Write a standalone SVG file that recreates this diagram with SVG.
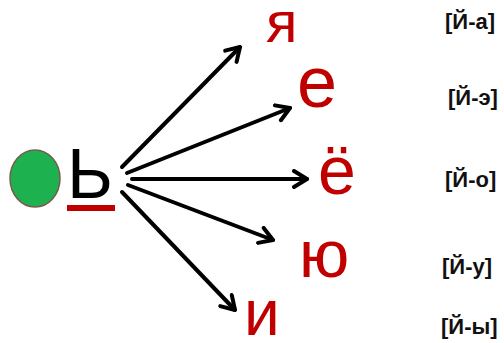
<svg xmlns="http://www.w3.org/2000/svg" width="504" height="343" viewBox="0 0 504 343">
<style>
.red{font-family:"Liberation Sans",Arial,sans-serif;fill:#c00000}
.lbl{font-family:"Liberation Sans",Arial,sans-serif;font-weight:bold;font-size:22px;fill:#111}
.arr{stroke:#000;stroke-width:4;fill:none;stroke-linecap:round;marker-end:url(#ah)}
</style>
<defs>
<marker id="ah" markerUnits="userSpaceOnUse" viewBox="-16 -10 18 20" refX="0" refY="0" markerWidth="18" markerHeight="20" orient="auto">
<path d="M-13,-8 L0,0 L-13,8" fill="none" stroke="#000" stroke-width="4" stroke-linecap="round" stroke-linejoin="round"/>
</marker>
</defs>
<rect width="504" height="343" fill="#fff"/>
<g id="circle"><ellipse cx="35" cy="178.5" rx="25" ry="28.5" fill="#1db14f" stroke="#7a5a50" stroke-width="1.5"/></g>
<g id="soft-sign">
<text x="67" y="198" font-family="Liberation Sans, Arial, sans-serif" font-size="70" fill="#000">Ь</text>
<rect x="67" y="205" width="48" height="6" fill="#c00000"/>
</g>
<g id="connectors">
<line class="arr" x1="122" y1="167" x2="240" y2="47"/>
<line class="arr" x1="127" y1="173" x2="290" y2="108"/>
<line class="arr" x1="132" y1="179" x2="307" y2="179"/>
<line class="arr" x1="128" y1="185" x2="273" y2="240"/>
<line class="arr" x1="122" y1="192" x2="235" y2="310"/>
</g>
<g id="ya"><text class="red" x="266" y="42" font-size="58">я</text></g>
<g id="ye"><text class="red" x="297" y="107" font-size="72">е</text></g>
<g id="yo"><text class="red" x="318" y="194" font-size="68">ё</text></g>
<g id="yu"><text class="red" x="299" y="277" font-size="67">ю</text></g>
<g id="i"><text class="red" x="244" y="335" font-size="64">и</text></g>
<g id="lbl-a"><text class="lbl" x="445" y="29">[Й-а]</text></g>
<g id="lbl-e"><text class="lbl" x="448" y="105">[Й-э]</text></g>
<g id="lbl-o"><text class="lbl" x="445" y="187">[Й-о]</text></g>
<g id="lbl-u"><text class="lbl" x="442" y="274">[Й-у]</text></g>
<g id="lbl-y"><text class="lbl" x="441" y="334">[Й-ы]</text></g>
</svg>
